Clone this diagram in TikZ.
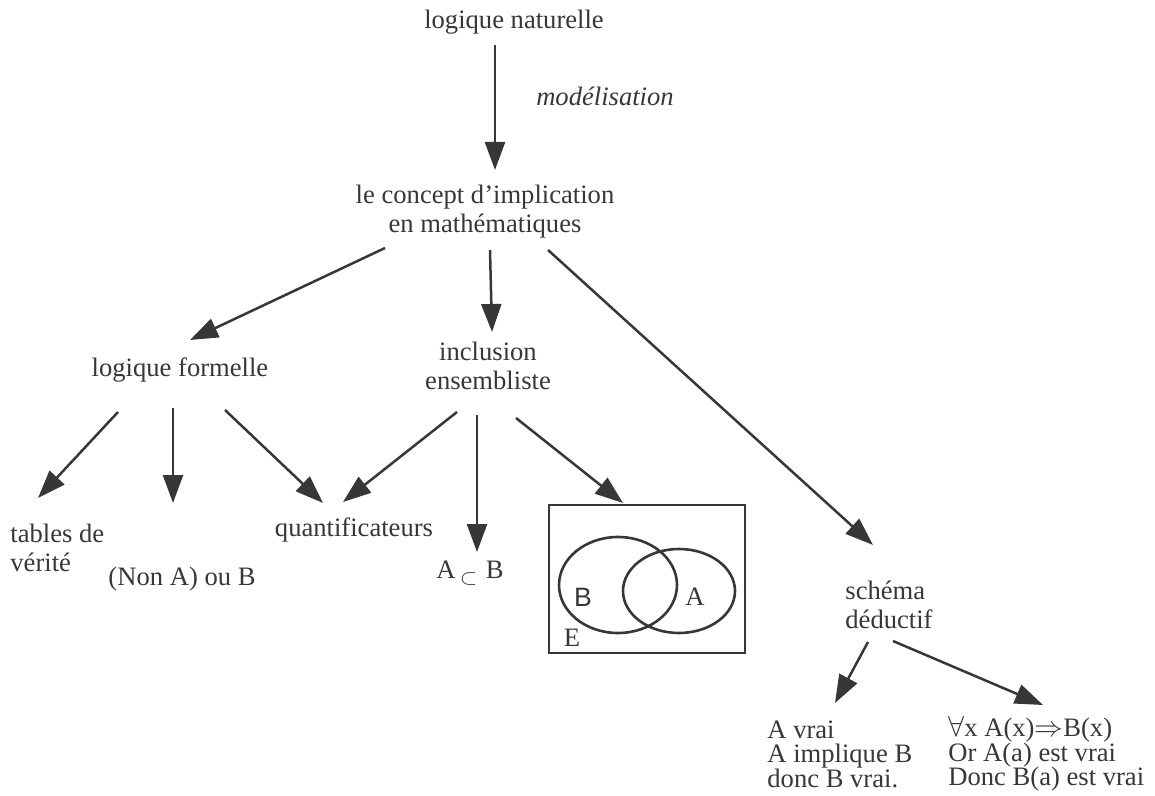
\documentclass[tikz,border=0pt]{standalone}
\usepackage{fontspec}
\setmainfont{Liberation Serif}
\newfontfamily\sansB{Liberation Sans}
\usetikzlibrary{arrows.meta}
\definecolor{ink}{RGB}{55,55,58}
\begin{document}
\begin{tikzpicture}[x=0.5pt,y=-0.5pt,
  every node/.style={text=ink,inner sep=0pt,font=\fontsize{13.3}{14.5}\selectfont},
  txt/.style={align=center},
  ltxt/.style={align=left,anchor=west},
  btxt/.style={align=left,anchor=west,font=\fontsize{13.3}{12.2}\selectfont},
  arr/.style={draw=ink,line width=1.25pt,-{Triangle[length=14pt,width=10pt]}},
  venn/.style={draw=ink,line width=1.3pt}]
\useasboundingbox (0,0) rectangle (1155,796);
% nodes
\node[txt] (nat) at (514,22) {logique naturelle};
\node[txt,font=\fontsize{13.3}{14.5}\selectfont\itshape] (mod) at (605,96) {modélisation};
\node[txt] (concept) at (485,212) {le concept d'implication\\en mathématiques};
\node[txt] (logf) at (180,370) {logique formelle};
\node[txt] (incl) at (488,366) {inclusion\\ensembliste};
\node[ltxt] (tables) at (10,548) {tables de\\vérité};
\node[txt] (nonA) at (182,579) {(Non A) ou B};
\node[txt] (quant) at (354,530) {quantificateurs};
\node[txt] (sub) at (470,573) {A\,\raisebox{-0.45ex}{\fontsize{11}{12}\selectfont$\subset$}\,\,B};
\node[ltxt] (schema) at (845,605) {schéma\\déductif};
\node[btxt] (ded1) at (767,754) {A vrai\\A implique B\\donc B vrai.};
\node[btxt] (ded2) at (948,754) {$\forall$x A(x)$\Rightarrow$B(x)\\Or A(a) est vrai\\Donc B(a) est vrai};
% venn diagram
\draw[venn] (549,505) rectangle (745,653);
\coordinate (venntop) at (623,503);
\draw[venn] (618,585) ellipse [x radius=59, y radius=48];
\draw[venn] (679,591) ellipse [x radius=56, y radius=42];
\node[font=\fontsize{13.3}{14.5}\sansB] (lB) at (583,597) {B};
\node (lA) at (695,597) {A};
\node (lE) at (572,638) {E};
% connector end points
\coordinate (n0) at (495,45);
\coordinate (n1) at (495,170);
\coordinate (c1) at (385,248);
\coordinate (c1e) at (190,340);
\coordinate (c2) at (490,250);
\coordinate (c2e) at (492,332);
\coordinate (c3) at (548,250);
\coordinate (c3e) at (873,545);
\coordinate (f1) at (118,412);
\coordinate (f1e) at (38,498);
\coordinate (f2) at (173,408);
\coordinate (f2e) at (173,503);
\coordinate (f3) at (225,410);
\coordinate (f3e) at (323,503);
\coordinate (i1) at (457,412);
\coordinate (i1e) at (343,502);
\coordinate (i2) at (477,415);
\coordinate (i2e) at (477,552);
\coordinate (i3) at (516,418);
\coordinate (s1) at (868,642);
\coordinate (s1e) at (835,703);
\coordinate (s2) at (893,641);
\coordinate (s2e) at (1043,705);
% connectors
\draw[arr] (n0) -- (n1);
\draw[arr] (c1) -- (c1e);
\draw[arr] (c2) -- (c2e);
\draw[arr] (c3) -- (c3e);
\draw[arr] (f1) -- (f1e);
\draw[arr] (f2) -- (f2e);
\draw[arr] (f3) -- (f3e);
\draw[arr] (i1) -- (i1e);
\draw[arr] (i2) -- (i2e);
\draw[arr] (i3) -- (venntop);
\draw[arr] (s1) -- (s1e);
\draw[arr] (s2) -- (s2e);
\end{tikzpicture}
\end{document}
